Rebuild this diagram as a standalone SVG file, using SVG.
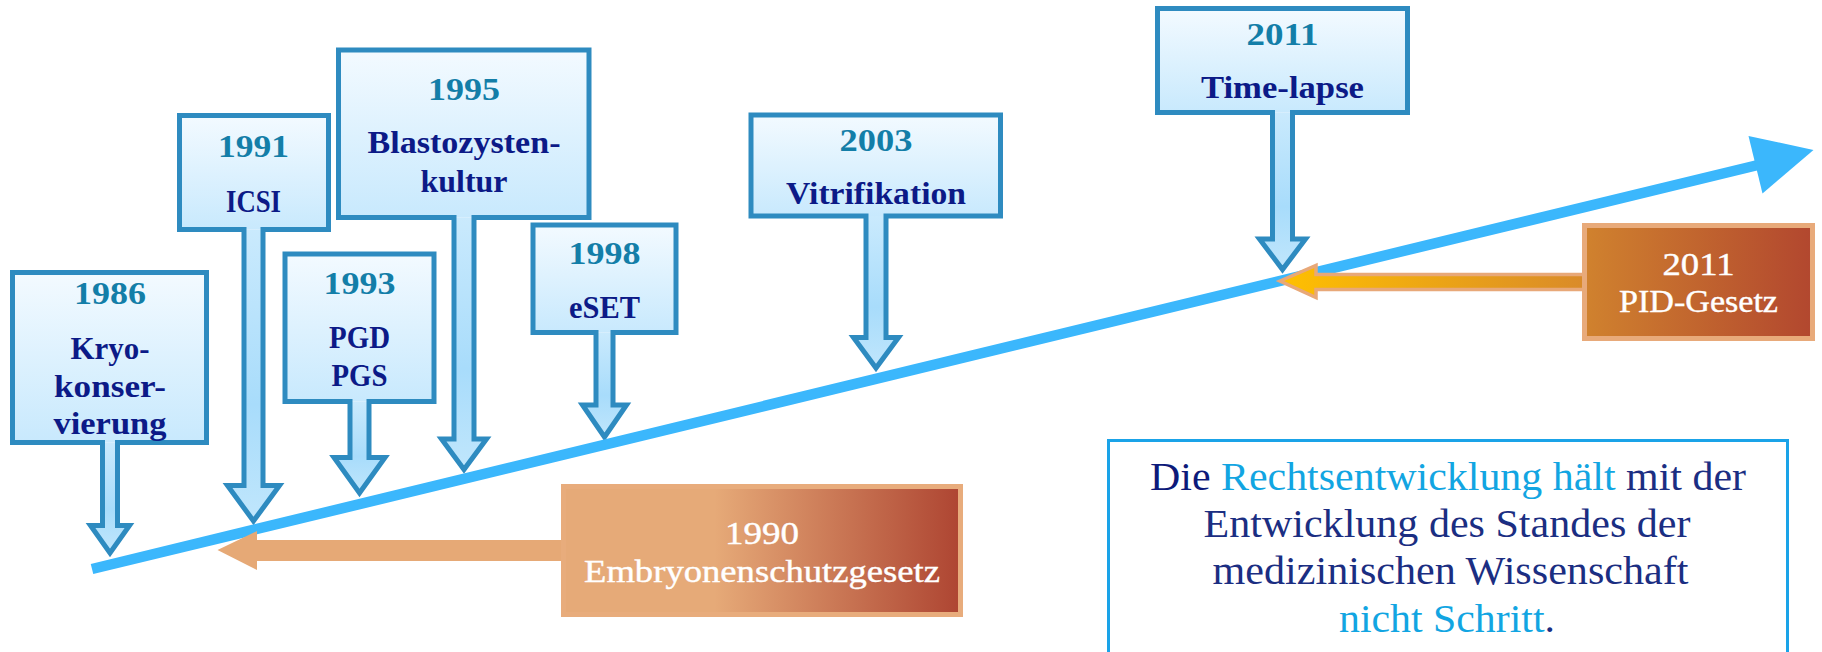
<svg xmlns="http://www.w3.org/2000/svg" width="1822" height="652" viewBox="0 0 1822 652">
<defs>
<linearGradient id="gBox" x1="0" y1="0" x2="0" y2="1"><stop offset="0" stop-color="#F3FAFF"/><stop offset="1" stop-color="#C8E9FD"/></linearGradient>
<linearGradient id="gShaft" x1="0" y1="0" x2="0" y2="1"><stop offset="0" stop-color="#CAEAFD"/><stop offset="0.6" stop-color="#A8DCFB"/><stop offset="1" stop-color="#C0E6FC"/></linearGradient>
<linearGradient id="gEmb" x1="0" y1="0" x2="1" y2="0"><stop offset="0" stop-color="#E6AA78"/><stop offset="0.38" stop-color="#E6AA78"/><stop offset="1" stop-color="#AE4532"/></linearGradient>
<linearGradient id="gPid" x1="0" y1="0" x2="1" y2="0"><stop offset="0" stop-color="#D0822E"/><stop offset="1" stop-color="#B2472F"/></linearGradient>
<linearGradient id="gYel" x1="0" y1="0" x2="1" y2="0"><stop offset="0" stop-color="#FFC000"/><stop offset="1" stop-color="#D98A2A"/></linearGradient>
<style>
.out{fill:none;stroke:#2E8BC0;stroke-width:5;stroke-linejoin:miter}
.yr{font-family:"Liberation Serif",serif;font-weight:bold;font-size:32px;fill:#137EA8;text-anchor:middle}
.lb{font-family:"Liberation Serif",serif;font-weight:bold;font-size:32px;fill:#0C1A87;text-anchor:middle}
.wt{font-family:"Liberation Serif",serif;font-size:32px;fill:#FFFFFF;text-anchor:middle;stroke:#FFFFFF;stroke-width:0.4}
.qt{font-family:"Liberation Serif",serif;font-size:40px;fill:#1B2E82;text-anchor:middle}
.lt{fill:#12A5E2}
.dk{fill:#0D1A7A}
</style>
</defs>
<rect width="1822" height="652" fill="#FFFFFF"/>

<g id="n1986">
<path d="M102.5,442.5 V525.5 H90.5 L110,553 L129.5,525.5 H117.5 V442.5 Z" fill="url(#gShaft)"/>
<rect x="12.5" y="272.5" width="194" height="170" fill="url(#gBox)"/>
<path class="out" d="M12.5,272.5 H206.5 V442.5 H117.5 V525.5 H129.5 L110,553 L90.5,525.5 H102.5 V442.5 H12.5 Z"/>
<text class="yr" x="110" y="304" textLength="72" lengthAdjust="spacingAndGlyphs">1986</text>
<text class="lb" x="110" y="359" textLength="79" lengthAdjust="spacingAndGlyphs">Kryo-</text>
<text class="lb" x="110" y="397" textLength="112" lengthAdjust="spacingAndGlyphs">konser-</text>
<text class="lb" x="110" y="434" textLength="113" lengthAdjust="spacingAndGlyphs">vierung</text>
</g>

<g id="n1991">
<path d="M244,229.5 V485.5 H227.5 L253.5,521 L279.5,485.5 H263 V229.5 Z" fill="url(#gShaft)"/>
<rect x="179.5" y="115.5" width="149" height="114" fill="url(#gBox)"/>
<path class="out" d="M179.5,115.5 H328.5 V229.5 H263 V485.5 H279.5 L253.5,521 L227.5,485.5 H244 V229.5 H179.5 Z"/>
<text class="yr" x="253.5" y="156.5" textLength="71" lengthAdjust="spacingAndGlyphs">1991</text>
<text class="lb" x="253.5" y="211.5" textLength="55" lengthAdjust="spacingAndGlyphs">ICSI</text>
</g>

<g id="n1993">
<path d="M350,401.5 V457.5 H334 L359.5,493 L385,457.5 H369 V401.5 Z" fill="url(#gShaft)"/>
<rect x="285" y="254" width="149" height="147.5" fill="url(#gBox)"/>
<path class="out" d="M285,254 H434 V401.5 H369 V457.5 H385 L359.5,493 L334,457.5 H350 V401.5 H285 Z"/>
<text class="yr" x="359.5" y="293.5" textLength="72" lengthAdjust="spacingAndGlyphs">1993</text>
<text class="lb" x="359.5" y="347.5" textLength="61" lengthAdjust="spacingAndGlyphs">PGD</text>
<text class="lb" x="359.5" y="386" textLength="56" lengthAdjust="spacingAndGlyphs">PGS</text>
</g>

<g id="n1995">
<path d="M454,217.5 V439 H441.5 L464,469.5 L486.5,439 H474 V217.5 Z" fill="url(#gShaft)"/>
<rect x="338.5" y="50" width="250.5" height="167.5" fill="url(#gBox)"/>
<path class="out" d="M338.5,50 H589 V217.5 H474 V439 H486.5 L464,469.5 L441.5,439 H454 V217.5 H338.5 Z"/>
<text class="yr" x="464" y="100" textLength="72" lengthAdjust="spacingAndGlyphs">1995</text>
<text class="lb" x="464" y="152.5" textLength="193" lengthAdjust="spacingAndGlyphs">Blastozysten-</text>
<text class="lb" x="464" y="191.5" textLength="87" lengthAdjust="spacingAndGlyphs">kultur</text>
</g>

<g id="n1998">
<path d="M596,332.5 V405 H582.5 L604.5,437 L626.5,405 H613 V332.5 Z" fill="url(#gShaft)"/>
<rect x="533" y="225" width="143" height="107.5" fill="url(#gBox)"/>
<path class="out" d="M533,225 H676 V332.5 H613 V405 H626.5 L604.5,437 L582.5,405 H596 V332.5 H533 Z"/>
<text class="yr" x="604.5" y="263.5" textLength="72" lengthAdjust="spacingAndGlyphs">1998</text>
<text class="lb" x="604.5" y="317.5" textLength="71" lengthAdjust="spacingAndGlyphs">eSET</text>
</g>

<g id="n2003">
<path d="M866,216 V337.5 H853.5 L876,368 L898.5,337.5 H886 V216 Z" fill="url(#gShaft)"/>
<rect x="751" y="115" width="249.5" height="101" fill="url(#gBox)"/>
<path class="out" d="M751,115 H1000.5 V216 H886 V337.5 H898.5 L876,368 L853.5,337.5 H866 V216 H751 Z"/>
<text class="yr" x="876" y="151" textLength="73" lengthAdjust="spacingAndGlyphs">2003</text>
<text class="lb" x="876" y="204" textLength="180" lengthAdjust="spacingAndGlyphs">Vitrifikation</text>
</g>

<g id="n2011">
<path d="M1272.5,112.5 V239 H1259.5 L1282.5,269.5 L1305.5,239 H1292.5 V112.5 Z" fill="url(#gShaft)"/>
<rect x="1157.5" y="8.5" width="250" height="104" fill="url(#gBox)"/>
<path class="out" d="M1157.5,8.5 H1407.5 V112.5 H1292.5 V239 H1305.5 L1282.5,269.5 L1259.5,239 H1272.5 V112.5 H1157.5 Z"/>
<text class="yr" x="1282.5" y="45" textLength="72" lengthAdjust="spacingAndGlyphs">2011</text>
<text class="lb" x="1282.5" y="98" textLength="163" lengthAdjust="spacingAndGlyphs">Time-lapse</text>
</g>

<g id="connectors">
<line x1="92" y1="569" x2="1758" y2="165" stroke="#3BB7FC" stroke-width="10.5"/>
<polygon points="1813.5,150 1748.5,136 1762.5,193.5" fill="#3BB7FC"/>
<polygon points="217.5,550 257,531 257,540 566,540 566,561 257,561 257,570" fill="#E6A976"/>
<polygon points="1280,281 1316,265.5 1316,274.5 1588,274.5 1588,289.5 1316,289.5 1316,297.5" fill="url(#gYel)" stroke="#E8A878" stroke-width="3.5"/>
</g>

<g id="n1990">
<rect x="563.5" y="486.5" width="397" height="128" fill="url(#gEmb)" stroke="#E8AC7C" stroke-width="5"/>
<text class="wt" x="762" y="543.5" textLength="74" lengthAdjust="spacingAndGlyphs">1990</text>
<text class="wt" x="762" y="581.5" font-size="31" textLength="356" lengthAdjust="spacingAndGlyphs">Embryonenschutzgesetz</text>
</g>

<g id="nPID">
<rect x="1584.5" y="225.5" width="228" height="113" fill="url(#gPid)" stroke="#E8AA7A" stroke-width="5"/>
<text class="wt" x="1698.5" y="275" font-size="33" textLength="72" lengthAdjust="spacingAndGlyphs">2011</text>
<text class="wt" x="1698.5" y="311.5" font-size="31" textLength="159" lengthAdjust="spacingAndGlyphs">PID-Gesetz</text>
</g>

<g id="nQuote">
<rect x="1108.5" y="440.5" width="679" height="230" fill="#FFFFFF" stroke="#1AA3E8" stroke-width="3"/>
<text class="qt" x="1448" y="489.5" textLength="596" lengthAdjust="spacingAndGlyphs"><tspan class="dk">Die </tspan><tspan class="lt">Rechtsentwicklung hält</tspan> mit der</text>
<text class="qt" x="1447" y="536.5" textLength="487" lengthAdjust="spacingAndGlyphs">Entwicklung des Standes der</text>
<text class="qt" x="1450.5" y="584" textLength="476" lengthAdjust="spacingAndGlyphs">medizinischen Wissenschaft</text>
<text class="qt" x="1447" y="632" textLength="216" lengthAdjust="spacingAndGlyphs"><tspan class="lt">nicht Schritt</tspan>.</text>
</g>
</svg>
